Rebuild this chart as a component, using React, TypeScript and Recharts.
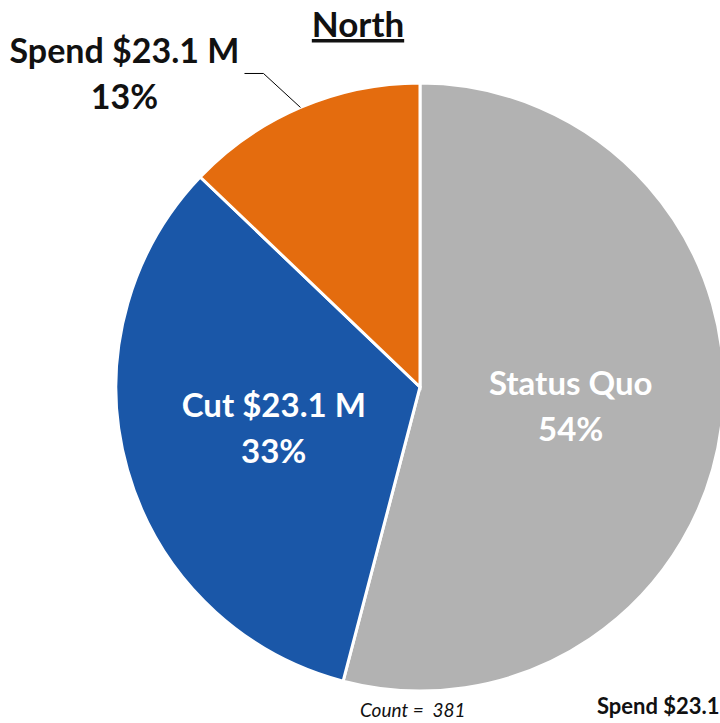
import React from 'react';
import { PieChart, Pie, Cell } from 'recharts';

const categories = ['Status Quo', 'Cut $23.1 M', 'Spend $23.1 M'];
const counts = [206, 126, 49];
const totalCount = 381;

const COLORS = ['#B2B2B2', '#1A57A8', '#E46C0E'];
const FONT = 'Lato, "Open Sans", sans-serif';
const RAD = Math.PI / 180;

const data = categories.map((name, i) => ({ name, value: counts[i] }));

const SliceLabel = (props: any) => {
  const { cx, cy, midAngle, outerRadius, percent, index, name } = props;
  const pct = `${Math.round(percent * 100)}%`;

  if (index === 2) {
    // outside label with a leader line
    const ex = cx + outerRadius * Math.cos(-midAngle * RAD);
    const ey = cy + outerRadius * Math.sin(-midAngle * RAD);
    const kx = ex - 37;
    const ky = ey - 34;
    const tx = kx - 139;
    return (
      <g>
        <polyline points={`${ex},${ey} ${kx},${ky} ${kx - 19},${ky}`} fill="none" stroke="#000" strokeWidth={1} />
        <text x={tx} y={ky - 10} textAnchor="middle" fill="#111" fontFamily={FONT} fontWeight={700} fontSize={34}>
          <tspan x={tx} dy={0}>{name}</tspan>
          <tspan x={tx} dy={46}>{pct}</tspan>
        </text>
      </g>
    );
  }

  const r = outerRadius * 0.5;
  const x = cx + r * Math.cos(-midAngle * RAD);
  const y = cy + r * Math.sin(-midAngle * RAD);
  return (
    <text x={x} y={y} textAnchor="middle" fill="#fff" fontFamily={FONT} fontWeight={700} fontSize={33}>
      <tspan x={x} dy={-11}>{name}</tspan>
      <tspan x={x} dy={46}>{pct}</tspan>
    </text>
  );
};

export default function App() {
  return (
    <div style={{ position: 'absolute', left: 0, top: 0, width: 720, height: 723, background: '#fff' }}>
      <PieChart width={720} height={723} margin={{ top: 0, right: 0, bottom: 0, left: 0 }}>
        <text x={358} y={37} textAnchor="middle" fill="#111" fontFamily={FONT} fontWeight={700} fontSize={35} textDecoration="underline">
          North
        </text>
        <Pie
          data={data}
          dataKey="value"
          nameKey="name"
          cx={420}
          cy={387}
          outerRadius={304}
          startAngle={90}
          endAngle={-270}
          stroke="#fff"
          strokeWidth={3}
          label={SliceLabel}
          labelLine={false}
          isAnimationActive={false}
        >
          {data.map((d, i) => (
            <Cell key={d.name} fill={COLORS[i]} />
          ))}
        </Pie>
        <text x={360} y={717} fill="#111" fontFamily={FONT} fontStyle="italic" fontSize={19} style={{ whiteSpace: 'pre' }}>
          {`Count =  ${totalCount}`}
        </text>
        <text x={597} y={714} fill="#111" fontFamily={FONT} fontWeight={700} fontSize={22}>
          Spend $23.1
        </text>
      </PieChart>
    </div>
  );
}
